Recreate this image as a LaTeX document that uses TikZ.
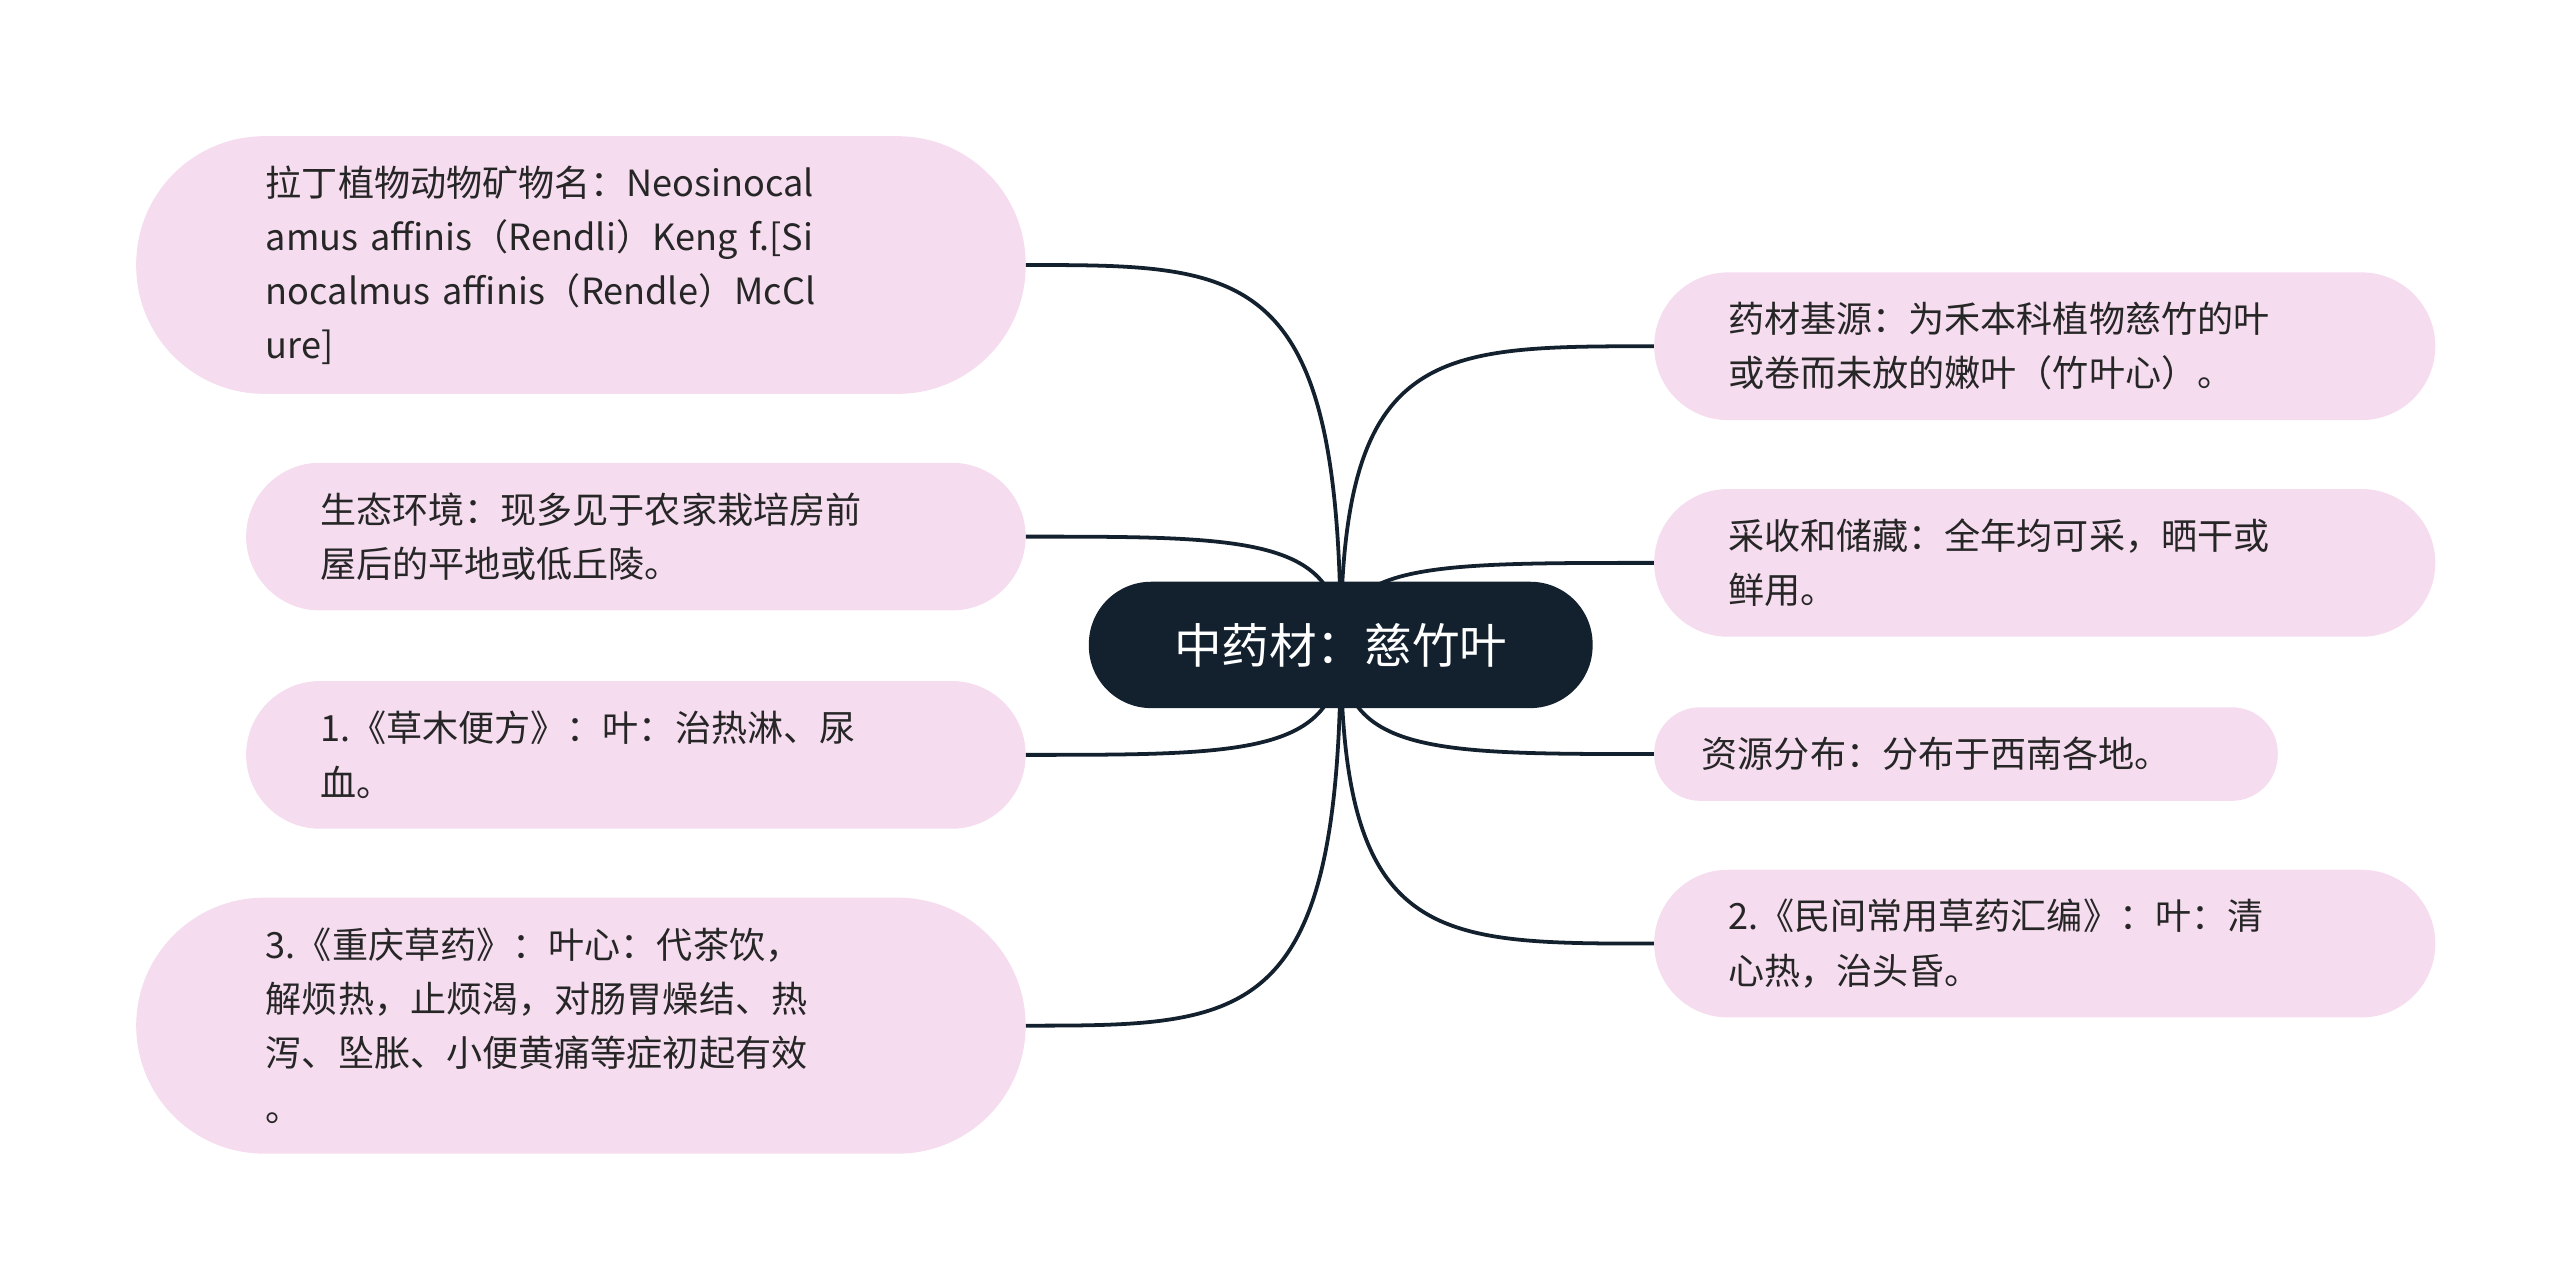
\documentclass[tikz,border=0pt]{standalone}
\usepackage{fontspec}
\setmainfont{Noto Sans CJK SC}
\definecolor{pk}{HTML}{F5DCEF}
\definecolor{nv}{HTML}{13202E}
\begin{document}
\begin{tikzpicture}[x=1pt,y=-1pt,
  pill/.style={fill=pk,draw=none,align=left,inner ysep=0pt,font=\fontsize{22}{33}\selectfont,text=black!85},
  con/.style={draw=nv,line width=2.3pt}]
\useasboundingbox (0,0) rectangle (1560,783);
\coordinate (c) at (817,393);
\node[pill,rounded corners=78pt,minimum width=542pt,minimum height=157pt,text width=384pt,inner xsep=79pt] (l1) at (354,161.5) {拉丁植物动物矿物名：Neosinocal\\amus affinis（Rendli）Keng f.[Si\\nocalmus affinis（Rendle）McCl\\ure]};
\node[pill,rounded corners=45pt,minimum width=475pt,minimum height=90pt,text width=385pt,inner xsep=45pt] (l2) at (387.5,327) {生态环境：现多见于农家栽培房前\\屋后的平地或低丘陵。};
\node[pill,rounded corners=45pt,minimum width=475pt,minimum height=90pt,text width=385pt,inner xsep=45pt] (l3) at (387.5,460) {1.《草木便方》：叶：治热淋、尿\\血。};
\node[pill,rounded corners=78pt,minimum width=542pt,minimum height=156pt,text width=384pt,inner xsep=79pt] (l4) at (354,625) {3.《重庆草药》：叶心：代茶饮，\\解烦热，止烦渴，对肠胃燥结、热\\泻、坠胀、小便黄痛等症初起有效\\。};
\node[pill,rounded corners=45pt,minimum width=476pt,minimum height=90pt,text width=386pt,inner xsep=45pt] (r1) at (1246,211) {药材基源：为禾本科植物慈竹的叶\\或卷而未放的嫩叶（竹叶心）。};
\node[pill,rounded corners=45pt,minimum width=476pt,minimum height=90pt,text width=386pt,inner xsep=45pt] (r2) at (1246,343) {采收和储藏：全年均可采，晒干或\\鲜用。};
\node[pill,rounded corners=28pt,minimum width=380pt,minimum height=57pt,text width=322pt,inner xsep=29pt] (r3) at (1198,459.5) {资源分布：分布于西南各地。};
\node[pill,rounded corners=45pt,minimum width=476pt,minimum height=90pt,text width=386pt,inner xsep=45pt] (r4) at (1246,575) {2.《民间常用草药汇编》：叶：清\\心热，治头昏。};
\foreach \n/\y in {l1/161.5,l2/327,l3/460,l4/625}{
  \draw[con] (c) .. controls (817,\y) and (760,\y) .. (\n.east);}
\foreach \n/\y in {r1/211,r2/343,r3/459.5,r4/575}{
  \draw[con] (c) .. controls (817,\y) and (874,\y) .. (\n.west);}
\node[fill=nv,text=white,rounded corners=38pt,minimum width=307pt,minimum height=77pt,font=\fontsize{29}{34}\selectfont] (ctr) at (817,393) {中药材：慈竹叶};
\end{tikzpicture}
\end{document}
